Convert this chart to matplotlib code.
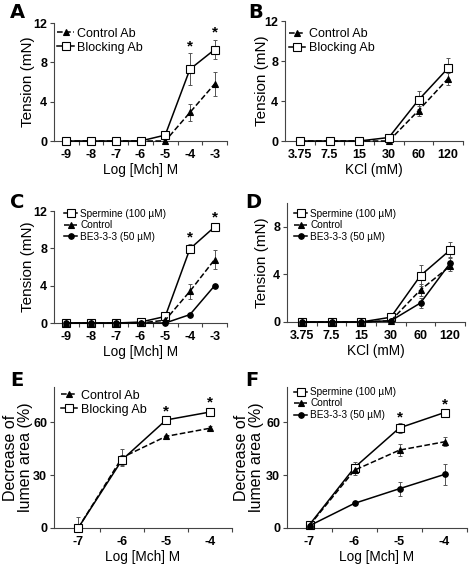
import matplotlib
matplotlib.use("Agg")
import matplotlib.pyplot as plt
import numpy as np

plt.rcParams['font.family'] = ['Liberation Sans', 'DejaVu Sans']

# ---- data ----
mch_a = ['-9', '-8', '-7', '-6', '-5', '-4', '-3']
a_ctrl = [0, 0, 0, 0, 0, 2.9, 5.8]
a_ctrl_err = [0, 0, 0, 0, 0, 0.9, 1.2]
a_block = [0, 0, 0, 0, 0.6, 7.3, 9.3]
a_block_err = [0, 0, 0, 0, 0.3, 1.6, 1.0]
a_star = [5, 6]

kcl = ['3.75', '7.5', '15', '30', '60', '120']
b_ctrl = [0, 0, 0, 0, 3.05, 6.25]
b_ctrl_err = [0, 0, 0, 0, 0.5, 0.6]
b_block = [0, 0, 0, 0.35, 4.1, 7.3]
b_block_err = [0, 0, 0, 0.1, 0.9, 1.05]

c_sperm = [0, 0, 0, 0.1, 0.7, 7.95, 10.3]
c_sperm_err = [0, 0, 0, 0, 0.1, 0.5, 0.3]
c_ctrl = [0, 0, 0, 0, 0.3, 3.4, 6.8]
c_ctrl_err = [0, 0, 0, 0, 0.1, 0.8, 1.0]
c_be = [0, 0, 0, 0, 0, 0.9, 4.0]
c_be_err = [0, 0, 0, 0, 0, 0.1, 0.1]
c_star = [5, 6]

d_sperm = [0, 0, 0, 0.4, 3.9, 6.05]
d_sperm_err = [0, 0, 0, 0.1, 0.9, 0.7]
d_ctrl = [0, 0, 0, 0.1, 2.7, 4.7]
d_ctrl_err = [0, 0, 0, 0, 0.5, 0.4]
d_be = [0, 0, 0, 0.1, 1.6, 4.95]
d_be_err = [0, 0, 0, 0, 0.4, 0.5]

mch_e = ['-7', '-6', '-5', '-4']
e_ctrl = [0, 40, 52, 56.6]
e_ctrl_err = [6, 4.7, 1, 1.5]
e_block = [0, 38.7, 61.3, 65.8]
e_block_err = [0, 3, 2, 2.5]
e_star = [2, 3]

f_sperm = [1.9, 34.3, 56.8, 65.5]
f_sperm_err = [0.5, 3, 3, 1.5]
f_ctrl = [1.5, 32.8, 44.2, 48.9]
f_ctrl_err = [0.5, 3, 3.5, 2.5]
f_be = [1.3, 14, 22.3, 30.4]
f_be_err = [0.3, 0.5, 4, 6]
f_star = [2, 3]

lab_ctrl = 'Control Ab'
lab_block = 'Blocking Ab'
lab_sperm = 'Spermine (100 µM)'
lab_c = 'Control'
lab_be = 'BE3-3-3 (50 µM)'

fig = plt.figure(figsize=(4.7, 5.69), dpi=100)

def W(x0, x1):
    return x0 / 470, (x1 - x0) / 470

def H(ytop, ybot):
    return 1 - ybot / 569, (ybot - ytop) / 569

def make_ax(xpx, ypx, ticks, ylim, yticks, xlim, ylabel, xlabel, ylpos, ylsize=11):
    l, w = W(*xpx)
    b, h = H(*ypx)
    ax = fig.add_axes([l, b, w, h])
    n = len(ticks)
    ax.set_xlim(*xlim)
    ax.set_ylim(*ylim)
    ax.set_xticks(range(n))
    ax.set_xticklabels(ticks, fontweight='bold', fontsize=9)
    ax.set_xticks(np.arange(n) + 0.5, minor=True)
    ax.tick_params(axis='x', which='major', length=0, pad=6)
    ax.tick_params(axis='x', which='minor', length=3, width=0.8, direction='out', color='#444')
    ax.set_yticks(yticks)
    ax.set_yticklabels([str(v) for v in yticks], fontweight='bold', fontsize=9)
    ax.tick_params(axis='y', length=3, width=0.8, direction='out', color='#444', pad=2)
    for s in ['top', 'right']:
        ax.spines[s].set_visible(False)
    for s in ['left', 'bottom']:
        ax.spines[s].set_color('#444')
        ax.spines[s].set_linewidth(0.8)
    ax.set_ylabel(ylabel, fontsize=ylsize, linespacing=1.0)
    # right edge of the label box, in pixels from the axis
    ax.yaxis.set_label_coords(-ylpos / (xpx[1] - xpx[0]), 0.5)
    ax.set_xlabel(xlabel, fontsize=9.8, labelpad=1)
    return ax

def series(ax, y, err, marker, ls, label, mfc='black', ms=4):
    x = np.arange(len(y))
    ax.errorbar(x, y, yerr=err, fmt='none', ecolor='#555', elinewidth=0.7,
                capsize=1.5, capthick=0.7, zorder=2)
    ax.plot(x, y, color='black', ls=ls, lw=1.1, marker=marker, ms=ms,
            mfc=mfc, mec='black', mew=0.8, label=label, zorder=3, clip_on=False)

def stars(ax, idx, y, err, off):
    for i in idx:
        ax.text(i, y[i] + err[i] + off, '*', ha='center', va='center',
                fontsize=11, fontweight='bold')

def legend(ax, handles_order, anchor, size):
    h, l = ax.get_legend_handles_labels()
    ax.legend([h[i] for i in handles_order], [l[i] for i in handles_order],
              loc='upper left', bbox_to_anchor=anchor, frameon=False,
              fontsize=size, handlelength=1.3, handletextpad=0.3,
              labelspacing=0.15, borderaxespad=0, borderpad=0)

def letter(x, y, s):
    fig.text(x / 470, 1 - y / 569, s, fontsize=14, fontweight='heavy',
             va='center', family='DejaVu Sans')

# A
ax = make_ax((54, 227), (23, 141), mch_a, (0, 12), [0, 4, 8, 12], (-0.5, 6.5),
             'Tension (mN)', 'Log [Mch] M', 19)
series(ax, a_ctrl, a_ctrl_err, '^', '--', lab_ctrl)
series(ax, a_block, a_block_err, 's', '-', lab_block, mfc='white', ms=5.5)
stars(ax, a_star, a_block, a_block_err, 0.7)
legend(ax, [0, 1], (0.02, 0.96), 9)
letter(10, 13, 'A')

# B
ax = make_ax((285, 463), (21, 141), kcl, (0, 12), [0, 4, 8, 12], (-0.5, 5.5),
             'Tension (mN)', 'KCl (mM)', 16)
series(ax, b_ctrl, b_ctrl_err, '^', '--', lab_ctrl)
series(ax, b_block, b_block_err, 's', '-', lab_block, mfc='white', ms=5.5)
legend(ax, [0, 1], (0.02, 0.94), 9)
letter(248, 13, 'B')

# C
ax = make_ax((54, 227), (211, 323), mch_a, (0, 12), [0, 4, 8, 12], (-0.5, 6.5),
             'Tension (mN)', 'Log [Mch] M', 19)
series(ax, c_sperm, c_sperm_err, 's', '-', lab_sperm, mfc='white', ms=5.5)
series(ax, c_ctrl, c_ctrl_err, '^', '--', lab_c)
series(ax, c_be, c_be_err, 'o', '-', lab_be)
stars(ax, c_star, c_sperm, c_sperm_err, 0.7)
legend(ax, [0, 1, 2], (0.06, 1.02), 7.2)
letter(10, 203, 'C')

# D
ax = make_ax((287, 465), (203, 322), kcl, (0, 10), [0, 4, 8], (-0.5, 5.5),
             'Tension (mN)', 'KCl (mM)', 18)
series(ax, d_sperm, d_sperm_err, 's', '-', lab_sperm, mfc='white', ms=5.5)
series(ax, d_ctrl, d_ctrl_err, '^', '--', lab_c)
series(ax, d_be, d_be_err, 'o', '-', lab_be)
legend(ax, [0, 1, 2], (0.04, 0.95), 7.2)
letter(245, 203, 'D')

# E
ax = make_ax((54, 232), (387, 528), mch_e, (0, 80), [0, 30, 60], (-0.55, 3.5),
             'Decrease of\nlumen area (%)', 'Log [Mch] M', 21, ylsize=11.5)
series(ax, e_ctrl, e_ctrl_err, '^', '--', lab_ctrl)
series(ax, e_block, e_block_err, 's', '-', lab_block, mfc='white', ms=5.5)
stars(ax, e_star, e_block, e_block_err, 3)
legend(ax, [0, 1], (0.04, 0.98), 9)
letter(10, 380, 'E')

# F
ax = make_ax((287, 467), (387, 528), mch_e, (0, 80), [0, 30, 60], (-0.5, 3.5),
             'Decrease of\nlumen area (%)', 'Log [Mch] M', 23, ylsize=11.5)
series(ax, f_sperm, f_sperm_err, 's', '-', lab_sperm, mfc='white', ms=5.5)
series(ax, f_ctrl, f_ctrl_err, '^', '--', lab_c)
series(ax, f_be, f_be_err, 'o', '-', lab_be)
stars(ax, f_star, f_sperm, f_sperm_err, 3)
legend(ax, [0, 1, 2], (0.04, 1.0), 7.2)
letter(245, 380, 'F')

fig.savefig('out.png', dpi=100)
